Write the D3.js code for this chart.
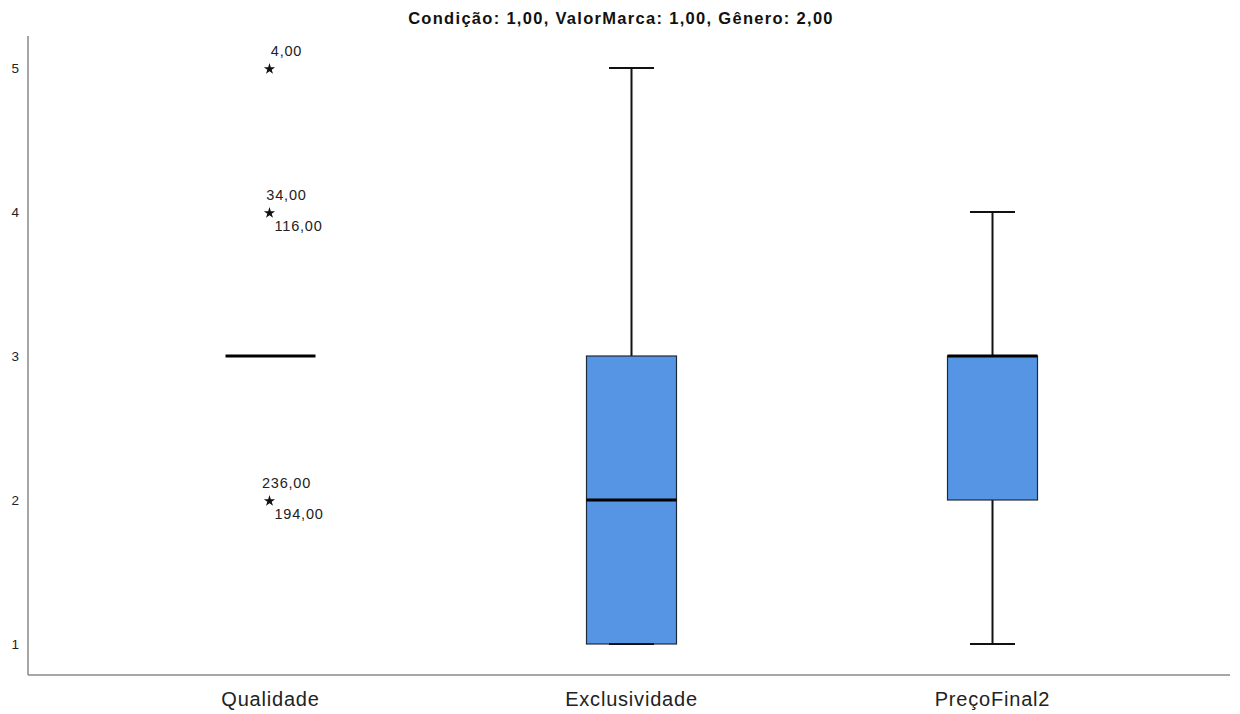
<!DOCTYPE html>
<html>
<head>
<meta charset="utf-8">
<script src="https://cdn.jsdelivr.net/npm/d3@7"></script>
<style>
  html, body { margin: 0; padding: 0; background: #fff; }
  svg { display: block; font-family: "Liberation Sans", Arial, sans-serif; }
</style>
</head>
<body>
<svg id="chart" width="1240" height="714"></svg>
<script>
// Box summaries per variable
const categories = ["Qualidade", "Exclusividade", "PreçoFinal2"];
const whiskerLow = [3, 1, 1];
const quartile1 = [3, 1, 2];
const medians = [3, 2, 3];
const quartile3 = [3, 3, 3];
const whiskerHigh = [3, 5, 4];
const hasBox = [false, true, true];

// Extreme cases (star markers) with case labels
const outlierCategory = ["Qualidade", "Qualidade", "Qualidade"];
const outlierValues = [5, 4, 2];
const outlierLabelsAbove = ["4,00", "34,00", "236,00"];
const outlierLabelsBelow = ["", "116,00", "194,00"];

const yTicks = [1, 2, 3, 4, 5];
const title = "Condição: 1,00, ValorMarca: 1,00, Gênero: 2,00";

const svg = d3.select("#chart");
const axisLeft = 28, axisRight = 1230, axisTop = 36, axisBottom = 675;

const x = d3.scaleBand().domain(categories).range([90, 1173]).paddingInner(0).paddingOuter(0);
const y = d3.scaleLinear().domain([1, 5]).range([644, 68]);

const boxW = 90, capW = 45;
const boxFill = "#5595e4";

// title
svg.append("text")
  .attr("x", 621).attr("y", 24)
  .attr("text-anchor", "middle")
  .attr("font-size", 16.5).attr("font-weight", "bold")
  .attr("letter-spacing", 1.3)
  .attr("fill", "#111")
  .text(title);

// y axis (line only, labels without tick marks)
const yAxis = d3.axisLeft(y).tickValues(yTicks).tickSize(0).tickPadding(9).tickFormat(d3.format("d"));
const gy = svg.append("g").attr("transform", `translate(${axisLeft},0)`).call(yAxis);
gy.select(".domain").remove();
gy.selectAll("text").attr("font-size", 13.5).attr("fill", "#222")
  .attr("font-family", "'Liberation Sans', Arial, sans-serif");
svg.append("line").attr("x1", axisLeft).attr("x2", axisLeft)
  .attr("y1", axisTop).attr("y2", axisBottom)
  .attr("stroke", "#8a8a8a").attr("stroke-width", 1.5);

// x axis line and category labels
svg.append("line").attr("x1", axisLeft).attr("x2", axisRight)
  .attr("y1", axisBottom).attr("y2", axisBottom)
  .attr("stroke", "#8a8a8a").attr("stroke-width", 1.5);
const xAxis = d3.axisBottom(x).tickSize(0).tickPadding(17);
const gx = svg.append("g").attr("transform", `translate(0,${axisBottom})`).call(xAxis);
gx.select(".domain").remove();
gx.selectAll("text").attr("font-size", 20).attr("fill", "#222")
  .attr("letter-spacing", 0.8)
  .attr("font-family", "'Liberation Sans', Arial, sans-serif");

// boxes
categories.forEach((c, i) => {
  const cx = x(c) + x.bandwidth() / 2;
  const g = svg.append("g");
  if (hasBox[i]) {
    // whiskers
    g.append("line").attr("x1", cx).attr("x2", cx)
      .attr("y1", y(whiskerHigh[i])).attr("y2", y(quartile3[i]))
      .attr("stroke", "#111").attr("stroke-width", 2);
    g.append("line").attr("x1", cx).attr("x2", cx)
      .attr("y1", y(quartile1[i])).attr("y2", y(whiskerLow[i]))
      .attr("stroke", "#111").attr("stroke-width", 2);
    g.append("rect")
      .attr("x", cx - boxW / 2).attr("width", boxW)
      .attr("y", y(quartile3[i])).attr("height", y(quartile1[i]) - y(quartile3[i]))
      .attr("fill", boxFill).attr("stroke", "#1f2a38").attr("stroke-width", 1.2);
    // caps
    [whiskerHigh[i], whiskerLow[i]].forEach(v => {
      g.append("line").attr("x1", cx - capW / 2).attr("x2", cx + capW / 2)
        .attr("y1", y(v)).attr("y2", y(v))
        .attr("stroke", "#111").attr("stroke-width", 2);
    });
  }
  // median
  g.append("line").attr("x1", cx - boxW / 2).attr("x2", cx + boxW / 2)
    .attr("y1", y(medians[i])).attr("y2", y(medians[i]))
    .attr("stroke", "#000").attr("stroke-width", 3);
});

// extreme values
outlierValues.forEach((v, i) => {
  const cx = x(outlierCategory[i]) + x.bandwidth() / 2 - 1;
  const cy = y(v);
  svg.append("path")
    .attr("d", d3.symbol().type(d3.symbolStar).size(40)())
    .attr("transform", `translate(${cx},${cy + 1})`)
    .attr("fill", "#111");
  svg.append("text")
    .attr("x", cx + 17).attr("y", cy - 12)
    .attr("text-anchor", "middle")
    .attr("font-size", 14.5).attr("letter-spacing", 0.8).attr("fill", "#222")
    .text(outlierLabelsAbove[i]);
  if (outlierLabelsBelow[i]) {
    svg.append("text")
      .attr("x", cx + 5).attr("y", cy + 19)
      .attr("font-size", 14.5).attr("letter-spacing", 0.8).attr("fill", "#222")
      .text(outlierLabelsBelow[i]);
  }
});
</script>
</body>
</html>
